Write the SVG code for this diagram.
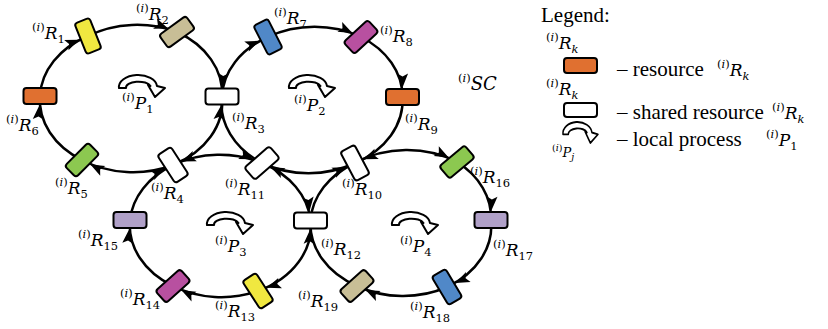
<svg xmlns="http://www.w3.org/2000/svg" xmlns:xlink="http://www.w3.org/1999/xlink" width="828" height="329" viewBox="0 0 828 329">
<style>
.cn{fill:none;stroke:#000;stroke-width:2.5;marker-end:url(#ah)}
.nd{stroke:#000;stroke-width:2}
.m{font-family:"DejaVu Serif",serif;font-style:italic;font-size:17px;fill:#000}
.s{font-size:11.5px;font-style:normal}
.it{font-style:italic}
.lg{font-family:"Liberation Serif",serif;font-size:21px;fill:#000}
.pr{fill:#fff;stroke:#000;stroke-width:2;stroke-linejoin:round}
.or{fill:#E07030}.ye{fill:#F0E840}.ta{fill:#C8BE96}.gr{fill:#8CC850}.bl{fill:#5088C8}.mg{fill:#B850A0}.lv{fill:#B0A0C8}.wh{fill:#fff}
</style>
<defs>
<marker id="ah" markerUnits="userSpaceOnUse" orient="auto" refX="23.5" refY="5.5" markerWidth="14" markerHeight="11" overflow="visible">
<path d="M0,0 L14,5.5 L0,11 L3,5.5 Z" fill="#000"/>
</marker>
<rect id="nr" x="-16.5" y="-8" width="33" height="16" rx="3"/>
<path id="proc" class="pr" d="M0,12 A19,12 0 0 1 38,10 L46,12 L36,21 L29,9 L31.5,10 A12.5,6 0 0 0 7,12 Z"/>
</defs>

<g id="connectors">
<path class="cn" d="M40,96 A91,71 0 0 1 88,36"/>
<path class="cn" d="M88,36 A91,71 0 0 1 177,32"/>
<path class="cn" d="M177,32 A91,71 0 0 1 222,96.5"/>
<path class="cn" d="M222,96.5 A91,71 0 0 1 173,165"/>
<path class="cn" d="M173,165 A91,71 0 0 1 82,160"/>
<path class="cn" d="M82,160 A91,71 0 0 1 40,96"/>
<path class="cn" d="M222,96.5 A90,71 0 0 1 268,37"/>
<path class="cn" d="M268,37 A90,71 0 0 1 361,37"/>
<path class="cn" d="M361,37 A90,71 0 0 1 402.5,97"/>
<path class="cn" d="M402.5,97 A90,71 0 0 1 355,163"/>
<path class="cn" d="M355,163 A90,71 0 0 1 262,163"/>
<path class="cn" d="M262,163 A90,71 0 0 1 222,96.5"/>
<path class="cn" d="M173,165 A90,71 0 0 1 262,163"/>
<path class="cn" d="M262,163 A90,71 0 0 1 310.5,220.5"/>
<path class="cn" d="M310.5,220.5 A90,71 0 0 1 258,291"/>
<path class="cn" d="M258,291 A90,71 0 0 1 173,286"/>
<path class="cn" d="M173,286 A90,71 0 0 1 130,220"/>
<path class="cn" d="M130,220 A90,71 0 0 1 173,165"/>
<path class="cn" d="M355,163 A90,71 0 0 1 457,162"/>
<path class="cn" d="M457,162 A90,71 0 0 1 491,220"/>
<path class="cn" d="M491,220 A90,71 0 0 1 447,287"/>
<path class="cn" d="M447,287 A90,71 0 0 1 357,286"/>
<path class="cn" d="M357,286 A90,71 0 0 1 310.5,220.5"/>
<path class="cn" d="M310.5,220.5 A90,71 0 0 1 355,163"/>
</g>

<g id="R1"><use href="#nr" class="nd ye" transform="translate(88,36) rotate(68)"/><text class="m" x="32" y="39"><tspan class="s" dy="-8">(<tspan class="it">i</tspan>)</tspan><tspan dy="8">R</tspan><tspan class="s" dy="4">1</tspan></text></g>
<g id="R2"><use href="#nr" class="nd ta" transform="translate(177,32) rotate(-36)"/><text class="m" x="136" y="20"><tspan class="s" dy="-8">(<tspan class="it">i</tspan>)</tspan><tspan dy="8">R</tspan><tspan class="s" dy="4">2</tspan></text></g>
<g id="R3"><use href="#nr" class="nd wh" transform="translate(222,96.5)"/><text class="m" x="232" y="129"><tspan class="s" dy="-8">(<tspan class="it">i</tspan>)</tspan><tspan dy="8">R</tspan><tspan class="s" dy="4">3</tspan></text></g>
<g id="R4"><use href="#nr" class="nd wh" transform="translate(173,165) rotate(57)"/><text class="m" x="151" y="199"><tspan class="s" dy="-8">(<tspan class="it">i</tspan>)</tspan><tspan dy="8">R</tspan><tspan class="s" dy="4">4</tspan></text></g>
<g id="R5"><use href="#nr" class="nd gr" transform="translate(82,160) rotate(-45)"/><text class="m" x="55" y="194"><tspan class="s" dy="-8">(<tspan class="it">i</tspan>)</tspan><tspan dy="8">R</tspan><tspan class="s" dy="4">5</tspan></text></g>
<g id="R6"><use href="#nr" class="nd or" transform="translate(40,96)"/><text class="m" x="6" y="131"><tspan class="s" dy="-8">(<tspan class="it">i</tspan>)</tspan><tspan dy="8">R</tspan><tspan class="s" dy="4">6</tspan></text></g>
<g id="R7"><use href="#nr" class="nd bl" transform="translate(268,37) rotate(63)"/><text class="m" x="274" y="24"><tspan class="s" dy="-8">(<tspan class="it">i</tspan>)</tspan><tspan dy="8">R</tspan><tspan class="s" dy="4">7</tspan></text></g>
<g id="R8"><use href="#nr" class="nd mg" transform="translate(361,37) rotate(-43)"/><text class="m" x="380" y="42"><tspan class="s" dy="-8">(<tspan class="it">i</tspan>)</tspan><tspan dy="8">R</tspan><tspan class="s" dy="4">8</tspan></text></g>
<g id="R9"><use href="#nr" class="nd or" transform="translate(402.5,97)"/><text class="m" x="405" y="130"><tspan class="s" dy="-8">(<tspan class="it">i</tspan>)</tspan><tspan dy="8">R</tspan><tspan class="s" dy="4">9</tspan></text></g>
<g id="R10"><use href="#nr" class="nd wh" transform="translate(355,163) rotate(62)"/><text class="m" x="342" y="195"><tspan class="s" dy="-8">(<tspan class="it">i</tspan>)</tspan><tspan dy="8">R</tspan><tspan class="s" dy="4">10</tspan></text></g>
<g id="R11"><use href="#nr" class="nd wh" transform="translate(262,163) rotate(-41)"/><text class="m" x="225" y="195"><tspan class="s" dy="-8">(<tspan class="it">i</tspan>)</tspan><tspan dy="8">R</tspan><tspan class="s" dy="4">11</tspan></text></g>
<g id="R12"><use href="#nr" class="nd wh" transform="translate(310.5,220.5)"/><text class="m" x="321" y="255"><tspan class="s" dy="-8">(<tspan class="it">i</tspan>)</tspan><tspan dy="8">R</tspan><tspan class="s" dy="4">12</tspan></text></g>
<g id="R13"><use href="#nr" class="nd ye" transform="translate(258,291) rotate(57)"/><text class="m" x="215" y="317"><tspan class="s" dy="-8">(<tspan class="it">i</tspan>)</tspan><tspan dy="8">R</tspan><tspan class="s" dy="4">13</tspan></text></g>
<g id="R14"><use href="#nr" class="nd mg" transform="translate(173,286) rotate(-42)"/><text class="m" x="120" y="305"><tspan class="s" dy="-8">(<tspan class="it">i</tspan>)</tspan><tspan dy="8">R</tspan><tspan class="s" dy="4">14</tspan></text></g>
<g id="R15"><use href="#nr" class="nd lv" transform="translate(130,220)"/><text class="m" x="78" y="246"><tspan class="s" dy="-8">(<tspan class="it">i</tspan>)</tspan><tspan dy="8">R</tspan><tspan class="s" dy="4">15</tspan></text></g>
<g id="R16"><use href="#nr" class="nd gr" transform="translate(457,162) rotate(-40)"/><text class="m" x="470" y="183"><tspan class="s" dy="-8">(<tspan class="it">i</tspan>)</tspan><tspan dy="8">R</tspan><tspan class="s" dy="4">16</tspan></text></g>
<g id="R17"><use href="#nr" class="nd lv" transform="translate(491,220)"/><text class="m" x="493" y="256"><tspan class="s" dy="-8">(<tspan class="it">i</tspan>)</tspan><tspan dy="8">R</tspan><tspan class="s" dy="4">17</tspan></text></g>
<g id="R18"><use href="#nr" class="nd bl" transform="translate(447,287) rotate(59)"/><text class="m" x="410" y="318"><tspan class="s" dy="-8">(<tspan class="it">i</tspan>)</tspan><tspan dy="8">R</tspan><tspan class="s" dy="4">18</tspan></text></g>
<g id="R19"><use href="#nr" class="nd ta" transform="translate(357,286) rotate(-42)"/><text class="m" x="298" y="307"><tspan class="s" dy="-8">(<tspan class="it">i</tspan>)</tspan><tspan dy="8">R</tspan><tspan class="s" dy="4">19</tspan></text></g>

<g id="P1"><use href="#proc" transform="translate(119,76)"/><text class="m" x="122" y="109"><tspan class="s" dy="-8">(<tspan class="it">i</tspan>)</tspan><tspan dy="8">P</tspan><tspan class="s" dy="4">1</tspan></text></g>
<g id="P2"><use href="#proc" transform="translate(289,76)"/><text class="m" x="294" y="111"><tspan class="s" dy="-8">(<tspan class="it">i</tspan>)</tspan><tspan dy="8">P</tspan><tspan class="s" dy="4">2</tspan></text></g>
<g id="P3"><use href="#proc" transform="translate(207,213)"/><text class="m" x="215" y="252"><tspan class="s" dy="-8">(<tspan class="it">i</tspan>)</tspan><tspan dy="8">P</tspan><tspan class="s" dy="4">3</tspan></text></g>
<g id="P4"><use href="#proc" transform="translate(392,213)"/><text class="m" x="400" y="252"><tspan class="s" dy="-8">(<tspan class="it">i</tspan>)</tspan><tspan dy="8">P</tspan><tspan class="s" dy="4">4</tspan></text></g>

<g id="SC"><text class="m" x="458" y="90" style="font-size:18px"><tspan class="s" dy="-8">(<tspan class="it">i</tspan>)</tspan><tspan dy="8">SC</tspan></text></g>

<g id="legend">
<text class="lg" x="541" y="22">Legend:</text>
<text class="m" x="546" y="49"><tspan class="s" dy="-8">(<tspan class="it">i</tspan>)</tspan><tspan dy="8">R</tspan><tspan class="s it" dy="4">k</tspan></text>
<rect class="nd or" x="564" y="58" width="33" height="15" rx="3"/>
<text class="lg" x="617" y="76">– resource</text>
<text class="m" x="717" y="76"><tspan class="s" dy="-8">(<tspan class="it">i</tspan>)</tspan><tspan dy="8">R</tspan><tspan class="s it" dy="4">k</tspan></text>
<text class="m" x="546" y="95"><tspan class="s" dy="-8">(<tspan class="it">i</tspan>)</tspan><tspan dy="8">R</tspan><tspan class="s it" dy="4">k</tspan></text>
<rect class="nd wh" x="564" y="103" width="33" height="14" rx="3"/>
<text class="lg" x="617" y="119">– shared resource</text>
<text class="m" x="772" y="119"><tspan class="s" dy="-8">(<tspan class="it">i</tspan>)</tspan><tspan dy="8">R</tspan><tspan class="s it" dy="4">k</tspan></text>
<use href="#proc" transform="translate(563,123) scale(0.76,0.95)"/>
<text class="m" x="552" y="157" style="font-size:13px"><tspan class="s" style="font-size:9.5px" dy="-6">(<tspan class="it">i</tspan>)</tspan><tspan dy="6">P</tspan><tspan class="s it" style="font-size:9.5px" dy="3">j</tspan></text>
<text class="lg" x="617" y="146">– local process</text>
<text class="m" x="766" y="146"><tspan class="s" dy="-8">(<tspan class="it">i</tspan>)</tspan><tspan dy="8">P</tspan><tspan class="s" dy="4">1</tspan></text>
</g>
</svg>
